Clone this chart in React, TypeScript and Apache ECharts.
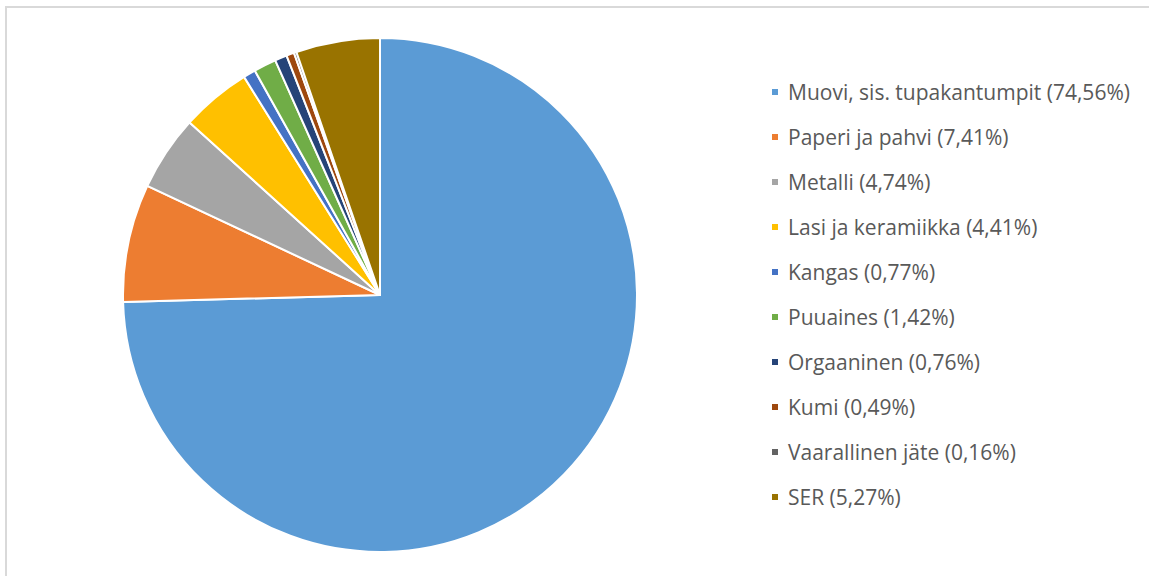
import React, { useEffect, useRef } from "react";
import * as echarts from "echarts";

const categories = [
  "Muovi, sis. tupakantumpit",
  "Paperi ja pahvi",
  "Metalli",
  "Lasi ja keramiikka",
  "Kangas",
  "Puuaines",
  "Orgaaninen",
  "Kumi",
  "Vaarallinen jäte",
  "SER",
];
const values = [74.56, 7.41, 4.74, 4.41, 0.77, 1.42, 0.76, 0.49, 0.16, 5.27];
const colors = [
  "#5B9BD5",
  "#ED7D31",
  "#A5A5A5",
  "#FFC000",
  "#4472C4",
  "#70AD47",
  "#264478",
  "#9E480E",
  "#636363",
  "#997300",
];

export default function App() {
  const ref = useRef<HTMLDivElement>(null);
  useEffect(() => {
    if (!ref.current) return;
    const chart = echarts.init(ref.current, undefined, { renderer: "svg" });
    const fmt = (v: number) => v.toFixed(2).replace(".", ",");
    chart.setOption({
      animation: false,
      backgroundColor: "#ffffff",
      color: colors,
      graphic: [
        {
          type: "rect",
          shape: { x: 6, y: 7, width: 1200, height: 620 },
          style: { fill: "none", stroke: "#d9d9d9", lineWidth: 2 },
          silent: true,
        },
      ],
      legend: {
        orient: "vertical",
        left: 770,
        top: 80,
        padding: 0,
        icon: "rect",
        itemWidth: 8,
        itemHeight: 8,
        itemGap: 21,
        data: categories,
        formatter: (name: string) => {
          const i = categories.indexOf(name);
          return `${name} (${fmt(values[i])}%)`;
        },
        textStyle: {
          fontFamily: "Open Sans",
          fontSize: 21,
          color: "#595959",
          lineHeight: 24,
          padding: [0, 0, 0, 4],
        },
      },
      series: [
        {
          type: "pie",
          center: [380, 295],
          radius: 257,
          startAngle: 90,
          clockwise: true,
          label: { show: false },
          labelLine: { show: false },
          itemStyle: { borderColor: "#ffffff", borderWidth: 2 },
          data: categories.map((c, i) => ({ name: c, value: values[i] })),
        },
      ],
    });
    return () => chart.dispose();
  }, []);
  return (
    <div
      ref={ref}
      style={{ position: "absolute", left: 0, top: 0, width: 1149, height: 576 }}
    />
  );
}
